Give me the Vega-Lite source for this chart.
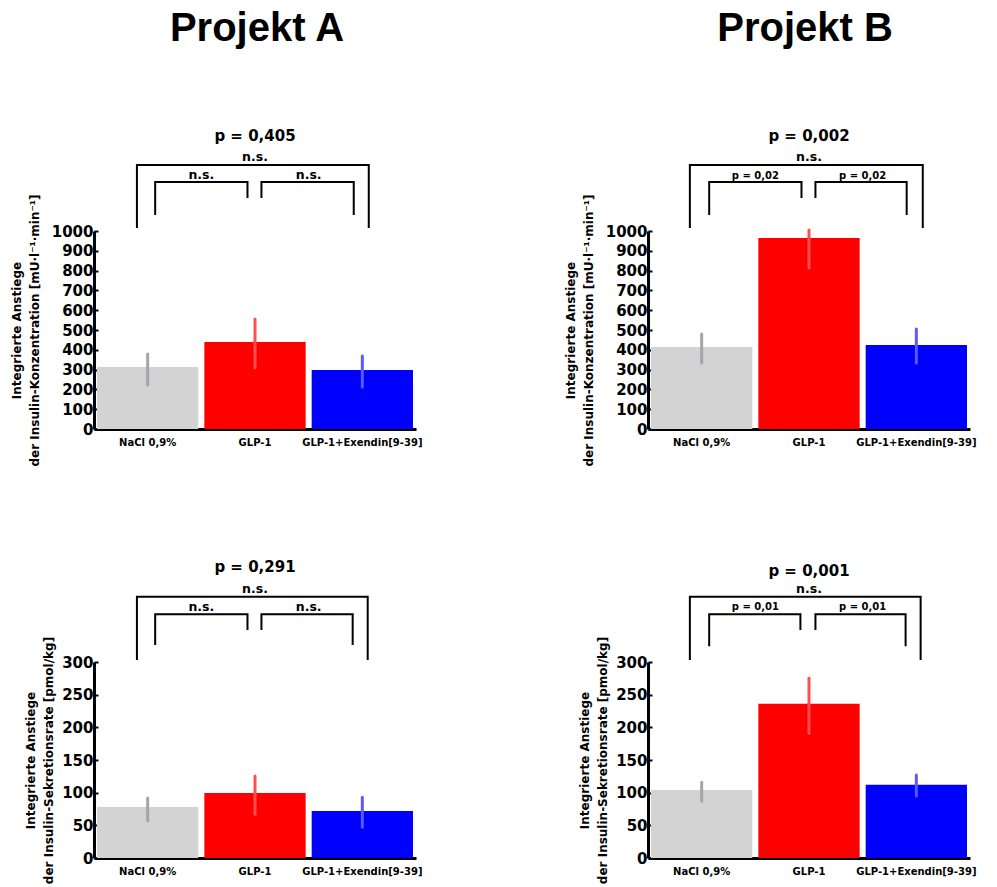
{
  "$schema": "https://vega.github.io/schema/vega-lite/v6.json",
  "background": "white",
  "padding": {"left": 10, "top": 8, "right": 5, "bottom": 5},
  "config": {
    "view": {"stroke": null},
    "font": "DejaVu Sans",
    "axis": {"domainColor": "black", "domainWidth": 3, "tickColor": "black", "tickWidth": 2, "grid": false, "labelColor": "black", "titleColor": "black", "labelFont": "DejaVu Sans", "labelFontWeight": "bold", "titleFont": "DejaVu Sans", "titleFontWeight": "bold", "labelOverlap": false, "zindex": 1}
  },
  "bounds": "flush",
  "columns": 2,
  "spacing": {"row": 233, "column": 232},
  "concat": [
    {
      "width": 322, "height": 198,
      "title": {"text": "Projekt A", "font": "Liberation Sans", "fontSize": 40, "fontWeight": "bold", "color": "black", "anchor": "middle", "frame": "group", "offset": 80, "dx": 2},
      "resolve": {"scale": {"x": "independent"}},
      "layer": [
        {
          "data": {"values": [
            {"Gruppe": "NaCl 0,9%", "Mittelwert": 313, "Unten": 222, "Oben": 379},
            {"Gruppe": "GLP-1", "Mittelwert": 439, "Unten": 308, "Oben": 556},
            {"Gruppe": "GLP-1+Exendin[9-39]", "Mittelwert": 298, "Unten": 212, "Oben": 369}
          ]},
          "mark": {"type": "bar"},
          "encoding": {
            "x": {"field": "Gruppe", "type": "nominal", "sort": null, "scale": {"paddingInner": 0.056, "paddingOuter": 0.028}, "axis": {"title": null, "labelAngle": 0, "labelFontSize": 10, "tickSize": -4, "labelPadding": 12, "labelOverlap": false}},
            "y": {"field": "Mittelwert", "type": "quantitative", "scale": {"domain": [0, 1000]}, "axis": {"values": [0, 100, 200, 300, 400, 500, 600, 700, 800, 900, 1000], "format": "d", "labelOverlap": false, "title": ["Integrierte Anstiege", "der Insulin-Konzentration [mU·l⁻¹·min⁻¹]"], "titleFontSize": 12, "titleLineHeight": 18, "titlePadding": 10, "labelFontSize": 15, "tickSize": -4, "labelPadding": 5}},
            "fill": {"field": "Gruppe", "type": "nominal", "scale": {"domain": ["NaCl 0,9%", "GLP-1", "GLP-1+Exendin[9-39]"], "range": ["#d3d3d3", "#ff0000", "#0000ff"]}, "legend": null}
          }
        },
        {
          "data": {"values": [
            {"Gruppe": "NaCl 0,9%", "Mittelwert": 313, "Unten": 222, "Oben": 379},
            {"Gruppe": "GLP-1", "Mittelwert": 439, "Unten": 308, "Oben": 556},
            {"Gruppe": "GLP-1+Exendin[9-39]", "Mittelwert": 298, "Unten": 212, "Oben": 369}
          ]},
          "mark": {"type": "rule", "strokeWidth": 3, "strokeCap": "round"},
          "encoding": {
            "x": {"field": "Gruppe", "type": "nominal", "sort": null, "scale": {"paddingInner": 0.056, "paddingOuter": 0.028}, "axis": null},
            "y": {"field": "Unten", "type": "quantitative", "scale": {"domain": [0, 1000]}, "axis": {"values": [0, 100, 200, 300, 400, 500, 600, 700, 800, 900, 1000], "format": "d", "labelOverlap": false, "title": ["Integrierte Anstiege", "der Insulin-Konzentration [mU·l⁻¹·min⁻¹]"], "titleFontSize": 12, "titleLineHeight": 18, "titlePadding": 10, "labelFontSize": 15, "tickSize": -4, "labelPadding": 5}},
            "y2": {"field": "Oben"},
            "stroke": {"field": "Gruppe", "type": "nominal", "scale": {"domain": ["NaCl 0,9%", "GLP-1", "GLP-1+Exendin[9-39]"], "range": ["#a4a4ac", "#ff5050", "#5a5aff"]}, "legend": null}
          }
        },
        {
          "data": {"values": [
            {"Klammer": "gesamt", "Punkt": 1, "x": 0.40, "y": 1015}, {"Klammer": "gesamt", "Punkt": 2, "x": 0.40, "y": 1333}, {"Klammer": "gesamt", "Punkt": 3, "x": 2.56, "y": 1333}, {"Klammer": "gesamt", "Punkt": 4, "x": 2.56, "y": 1015},
            {"Klammer": "links", "Punkt": 1, "x": 0.57, "y": 1081}, {"Klammer": "links", "Punkt": 2, "x": 0.57, "y": 1247}, {"Klammer": "links", "Punkt": 3, "x": 1.43, "y": 1247}, {"Klammer": "links", "Punkt": 4, "x": 1.43, "y": 1167},
            {"Klammer": "rechts", "Punkt": 1, "x": 1.56, "y": 1167}, {"Klammer": "rechts", "Punkt": 2, "x": 1.56, "y": 1247}, {"Klammer": "rechts", "Punkt": 3, "x": 2.42, "y": 1247}, {"Klammer": "rechts", "Punkt": 4, "x": 2.42, "y": 1081}
          ]},
          "mark": {"type": "line", "color": "black", "strokeWidth": 2, "strokeJoin": "miter"},
          "encoding": {
            "x": {"field": "x", "type": "quantitative", "scale": {"domain": [0, 3]}, "axis": null},
            "y": {"field": "y", "type": "quantitative", "scale": {"domain": [0, 1000]}, "axis": {"values": [0, 100, 200, 300, 400, 500, 600, 700, 800, 900, 1000], "format": "d", "labelOverlap": false, "title": ["Integrierte Anstiege", "der Insulin-Konzentration [mU·l⁻¹·min⁻¹]"], "titleFontSize": 12, "titleLineHeight": 18, "titlePadding": 10, "labelFontSize": 15, "tickSize": -4, "labelPadding": 5}},
            "detail": {"field": "Klammer"},
            "order": {"field": "Punkt"}
          }
        },
        {
          "data": {"values": [
            {"Typ": "Titel", "x": 1.5, "y": 1455, "Text": "p = 0,405"},
            {"Typ": "n.s.", "x": 1.5, "y": 1354, "Text": "n.s."},
            {"Typ": "n.s.", "x": 1.0, "y": 1262, "Text": "n.s."},
            {"Typ": "n.s.", "x": 2.0, "y": 1262, "Text": "n.s."}
          ]},
          "mark": {"type": "text", "fontWeight": "bold", "font": "DejaVu Sans", "color": "black", "baseline": "alphabetic", "align": "center"},
          "encoding": {
            "x": {"field": "x", "type": "quantitative", "scale": {"domain": [0, 3]}, "axis": null},
            "y": {"field": "y", "type": "quantitative", "scale": {"domain": [0, 1000]}, "axis": {"values": [0, 100, 200, 300, 400, 500, 600, 700, 800, 900, 1000], "format": "d", "labelOverlap": false, "title": ["Integrierte Anstiege", "der Insulin-Konzentration [mU·l⁻¹·min⁻¹]"], "titleFontSize": 12, "titleLineHeight": 18, "titlePadding": 10, "labelFontSize": 15, "tickSize": -4, "labelPadding": 5}},
            "text": {"field": "Text"},
            "size": {"field": "Typ", "type": "ordinal", "scale": {"domain": ["Titel", "n.s.", "p"], "range": [15, 10, 12]}, "legend": null}
          }
        }
      ]
    },
    {
      "width": 322, "height": 198,
      "title": {"text": "Projekt B", "font": "Liberation Sans", "fontSize": 40, "fontWeight": "bold", "color": "black", "anchor": "middle", "frame": "group", "offset": 80, "dx": -4},
      "resolve": {"scale": {"x": "independent"}},
      "layer": [
        {
          "data": {"values": [
            {"Gruppe": "NaCl 0,9%", "Mittelwert": 414, "Unten": 333, "Oben": 480},
            {"Gruppe": "GLP-1", "Mittelwert": 965, "Unten": 813, "Oben": 1005},
            {"Gruppe": "GLP-1+Exendin[9-39]", "Mittelwert": 424, "Unten": 333, "Oben": 505}
          ]},
          "mark": {"type": "bar"},
          "encoding": {
            "x": {"field": "Gruppe", "type": "nominal", "sort": null, "scale": {"paddingInner": 0.056, "paddingOuter": 0.028}, "axis": {"title": null, "labelAngle": 0, "labelFontSize": 10, "tickSize": -4, "labelPadding": 12, "labelOverlap": false}},
            "y": {"field": "Mittelwert", "type": "quantitative", "scale": {"domain": [0, 1000]}, "axis": {"values": [0, 100, 200, 300, 400, 500, 600, 700, 800, 900, 1000], "format": "d", "labelOverlap": false, "title": ["Integrierte Anstiege", "der Insulin-Konzentration [mU·l⁻¹·min⁻¹]"], "titleFontSize": 12, "titleLineHeight": 18, "titlePadding": 10, "labelFontSize": 15, "tickSize": -4, "labelPadding": 5}},
            "fill": {"field": "Gruppe", "type": "nominal", "scale": {"domain": ["NaCl 0,9%", "GLP-1", "GLP-1+Exendin[9-39]"], "range": ["#d3d3d3", "#ff0000", "#0000ff"]}, "legend": null}
          }
        },
        {
          "data": {"values": [
            {"Gruppe": "NaCl 0,9%", "Mittelwert": 414, "Unten": 333, "Oben": 480},
            {"Gruppe": "GLP-1", "Mittelwert": 965, "Unten": 813, "Oben": 1005},
            {"Gruppe": "GLP-1+Exendin[9-39]", "Mittelwert": 424, "Unten": 333, "Oben": 505}
          ]},
          "mark": {"type": "rule", "strokeWidth": 3, "strokeCap": "round"},
          "encoding": {
            "x": {"field": "Gruppe", "type": "nominal", "sort": null, "scale": {"paddingInner": 0.056, "paddingOuter": 0.028}, "axis": null},
            "y": {"field": "Unten", "type": "quantitative", "scale": {"domain": [0, 1000]}, "axis": {"values": [0, 100, 200, 300, 400, 500, 600, 700, 800, 900, 1000], "format": "d", "labelOverlap": false, "title": ["Integrierte Anstiege", "der Insulin-Konzentration [mU·l⁻¹·min⁻¹]"], "titleFontSize": 12, "titleLineHeight": 18, "titlePadding": 10, "labelFontSize": 15, "tickSize": -4, "labelPadding": 5}},
            "y2": {"field": "Oben"},
            "stroke": {"field": "Gruppe", "type": "nominal", "scale": {"domain": ["NaCl 0,9%", "GLP-1", "GLP-1+Exendin[9-39]"], "range": ["#a4a4ac", "#ff5050", "#5a5aff"]}, "legend": null}
          }
        },
        {
          "data": {"values": [
            {"Klammer": "gesamt", "Punkt": 1, "x": 0.39, "y": 1015}, {"Klammer": "gesamt", "Punkt": 2, "x": 0.39, "y": 1333}, {"Klammer": "gesamt", "Punkt": 3, "x": 2.56, "y": 1333}, {"Klammer": "gesamt", "Punkt": 4, "x": 2.56, "y": 1015},
            {"Klammer": "links", "Punkt": 1, "x": 0.57, "y": 1081}, {"Klammer": "links", "Punkt": 2, "x": 0.57, "y": 1247}, {"Klammer": "links", "Punkt": 3, "x": 1.43, "y": 1247}, {"Klammer": "links", "Punkt": 4, "x": 1.43, "y": 1167},
            {"Klammer": "rechts", "Punkt": 1, "x": 1.56, "y": 1167}, {"Klammer": "rechts", "Punkt": 2, "x": 1.56, "y": 1247}, {"Klammer": "rechts", "Punkt": 3, "x": 2.41, "y": 1247}, {"Klammer": "rechts", "Punkt": 4, "x": 2.41, "y": 1081}
          ]},
          "mark": {"type": "line", "color": "black", "strokeWidth": 2, "strokeJoin": "miter"},
          "encoding": {
            "x": {"field": "x", "type": "quantitative", "scale": {"domain": [0, 3]}, "axis": null},
            "y": {"field": "y", "type": "quantitative", "scale": {"domain": [0, 1000]}, "axis": {"values": [0, 100, 200, 300, 400, 500, 600, 700, 800, 900, 1000], "format": "d", "labelOverlap": false, "title": ["Integrierte Anstiege", "der Insulin-Konzentration [mU·l⁻¹·min⁻¹]"], "titleFontSize": 12, "titleLineHeight": 18, "titlePadding": 10, "labelFontSize": 15, "tickSize": -4, "labelPadding": 5}},
            "detail": {"field": "Klammer"},
            "order": {"field": "Punkt"}
          }
        },
        {
          "data": {"values": [
            {"Typ": "Titel", "x": 1.5, "y": 1455, "Text": "p = 0,002"},
            {"Typ": "n.s.", "x": 1.5, "y": 1354, "Text": "n.s."},
            {"Typ": "p", "x": 1.0, "y": 1265, "Text": "p = 0,02"},
            {"Typ": "p", "x": 2.0, "y": 1265, "Text": "p = 0,02"}
          ]},
          "mark": {"type": "text", "fontWeight": "bold", "font": "DejaVu Sans", "color": "black", "baseline": "alphabetic", "align": "center"},
          "encoding": {
            "x": {"field": "x", "type": "quantitative", "scale": {"domain": [0, 3]}, "axis": null},
            "y": {"field": "y", "type": "quantitative", "scale": {"domain": [0, 1000]}, "axis": {"values": [0, 100, 200, 300, 400, 500, 600, 700, 800, 900, 1000], "format": "d", "labelOverlap": false, "title": ["Integrierte Anstiege", "der Insulin-Konzentration [mU·l⁻¹·min⁻¹]"], "titleFontSize": 12, "titleLineHeight": 18, "titlePadding": 10, "labelFontSize": 15, "tickSize": -4, "labelPadding": 5}},
            "text": {"field": "Text"},
            "size": {"field": "Typ", "type": "ordinal", "scale": {"domain": ["Titel", "n.s.", "p"], "range": [15, 10, 12]}, "legend": null}
          }
        }
      ]
    },
    {
      "width": 322, "height": 196,
      "resolve": {"scale": {"x": "independent"}},
      "layer": [
        {
          "data": {"values": [
            {"Gruppe": "NaCl 0,9%", "Mittelwert": 78, "Unten": 57, "Oben": 92},
            {"Gruppe": "GLP-1", "Mittelwert": 99.5, "Unten": 67, "Oben": 125.5},
            {"Gruppe": "GLP-1+Exendin[9-39]", "Mittelwert": 72, "Unten": 47, "Oben": 93}
          ]},
          "mark": {"type": "bar"},
          "encoding": {
            "x": {"field": "Gruppe", "type": "nominal", "sort": null, "scale": {"paddingInner": 0.056, "paddingOuter": 0.028}, "axis": {"title": null, "labelAngle": 0, "labelFontSize": 10, "tickSize": -4, "labelPadding": 12, "labelOverlap": false}},
            "y": {"field": "Mittelwert", "type": "quantitative", "scale": {"domain": [0, 300]}, "axis": {"values": [0, 50, 100, 150, 200, 250, 300], "format": "d", "labelOverlap": false, "title": ["Integrierte Anstiege", "der Insulin-Sekretionsrate [pmol/kg]"], "titleFontSize": 12, "titleLineHeight": 18, "titlePadding": 6, "labelFontSize": 15, "tickSize": -4, "labelPadding": 5}},
            "fill": {"field": "Gruppe", "type": "nominal", "scale": {"domain": ["NaCl 0,9%", "GLP-1", "GLP-1+Exendin[9-39]"], "range": ["#d3d3d3", "#ff0000", "#0000ff"]}, "legend": null}
          }
        },
        {
          "data": {"values": [
            {"Gruppe": "NaCl 0,9%", "Mittelwert": 78, "Unten": 57, "Oben": 92},
            {"Gruppe": "GLP-1", "Mittelwert": 99.5, "Unten": 67, "Oben": 125.5},
            {"Gruppe": "GLP-1+Exendin[9-39]", "Mittelwert": 72, "Unten": 47, "Oben": 93}
          ]},
          "mark": {"type": "rule", "strokeWidth": 3, "strokeCap": "round"},
          "encoding": {
            "x": {"field": "Gruppe", "type": "nominal", "sort": null, "scale": {"paddingInner": 0.056, "paddingOuter": 0.028}, "axis": null},
            "y": {"field": "Unten", "type": "quantitative", "scale": {"domain": [0, 300]}, "axis": {"values": [0, 50, 100, 150, 200, 250, 300], "format": "d", "labelOverlap": false, "title": ["Integrierte Anstiege", "der Insulin-Sekretionsrate [pmol/kg]"], "titleFontSize": 12, "titleLineHeight": 18, "titlePadding": 6, "labelFontSize": 15, "tickSize": -4, "labelPadding": 5}},
            "y2": {"field": "Oben"},
            "stroke": {"field": "Gruppe", "type": "nominal", "scale": {"domain": ["NaCl 0,9%", "GLP-1", "GLP-1+Exendin[9-39]"], "range": ["#a4a4ac", "#ff5050", "#5a5aff"]}, "legend": null}
          }
        },
        {
          "data": {"values": [
            {"Klammer": "gesamt", "Punkt": 1, "x": 0.40, "y": 303}, {"Klammer": "gesamt", "Punkt": 2, "x": 0.40, "y": 400}, {"Klammer": "gesamt", "Punkt": 3, "x": 2.55, "y": 400}, {"Klammer": "gesamt", "Punkt": 4, "x": 2.55, "y": 303},
            {"Klammer": "links", "Punkt": 1, "x": 0.57, "y": 326}, {"Klammer": "links", "Punkt": 2, "x": 0.57, "y": 373}, {"Klammer": "links", "Punkt": 3, "x": 1.43, "y": 373}, {"Klammer": "links", "Punkt": 4, "x": 1.43, "y": 349},
            {"Klammer": "rechts", "Punkt": 1, "x": 1.56, "y": 349}, {"Klammer": "rechts", "Punkt": 2, "x": 1.56, "y": 373}, {"Klammer": "rechts", "Punkt": 3, "x": 2.41, "y": 373}, {"Klammer": "rechts", "Punkt": 4, "x": 2.41, "y": 326}
          ]},
          "mark": {"type": "line", "color": "black", "strokeWidth": 2, "strokeJoin": "miter"},
          "encoding": {
            "x": {"field": "x", "type": "quantitative", "scale": {"domain": [0, 3]}, "axis": null},
            "y": {"field": "y", "type": "quantitative", "scale": {"domain": [0, 300]}, "axis": {"values": [0, 50, 100, 150, 200, 250, 300], "format": "d", "labelOverlap": false, "title": ["Integrierte Anstiege", "der Insulin-Sekretionsrate [pmol/kg]"], "titleFontSize": 12, "titleLineHeight": 18, "titlePadding": 6, "labelFontSize": 15, "tickSize": -4, "labelPadding": 5}},
            "detail": {"field": "Klammer"},
            "order": {"field": "Punkt"}
          }
        },
        {
          "data": {"values": [
            {"Typ": "Titel", "x": 1.5, "y": 437, "Text": "p = 0,291"},
            {"Typ": "n.s.", "x": 1.5, "y": 405, "Text": "n.s."},
            {"Typ": "n.s.", "x": 1.0, "y": 378, "Text": "n.s."},
            {"Typ": "n.s.", "x": 2.0, "y": 378, "Text": "n.s."}
          ]},
          "mark": {"type": "text", "fontWeight": "bold", "font": "DejaVu Sans", "color": "black", "baseline": "alphabetic", "align": "center"},
          "encoding": {
            "x": {"field": "x", "type": "quantitative", "scale": {"domain": [0, 3]}, "axis": null},
            "y": {"field": "y", "type": "quantitative", "scale": {"domain": [0, 300]}, "axis": {"values": [0, 50, 100, 150, 200, 250, 300], "format": "d", "labelOverlap": false, "title": ["Integrierte Anstiege", "der Insulin-Sekretionsrate [pmol/kg]"], "titleFontSize": 12, "titleLineHeight": 18, "titlePadding": 6, "labelFontSize": 15, "tickSize": -4, "labelPadding": 5}},
            "text": {"field": "Text"},
            "size": {"field": "Typ", "type": "ordinal", "scale": {"domain": ["Titel", "n.s.", "p"], "range": [15, 10, 12]}, "legend": null}
          }
        }
      ]
    },
    {
      "width": 322, "height": 196,
      "resolve": {"scale": {"x": "independent"}},
      "layer": [
        {
          "data": {"values": [
            {"Gruppe": "NaCl 0,9%", "Mittelwert": 104, "Unten": 87, "Oben": 116},
            {"Gruppe": "GLP-1", "Mittelwert": 236, "Unten": 191, "Oben": 275},
            {"Gruppe": "GLP-1+Exendin[9-39]", "Mittelwert": 112, "Unten": 95, "Oben": 127}
          ]},
          "mark": {"type": "bar"},
          "encoding": {
            "x": {"field": "Gruppe", "type": "nominal", "sort": null, "scale": {"paddingInner": 0.056, "paddingOuter": 0.028}, "axis": {"title": null, "labelAngle": 0, "labelFontSize": 10, "tickSize": -4, "labelPadding": 12, "labelOverlap": false}},
            "y": {"field": "Mittelwert", "type": "quantitative", "scale": {"domain": [0, 300]}, "axis": {"values": [0, 50, 100, 150, 200, 250, 300], "format": "d", "labelOverlap": false, "title": ["Integrierte Anstiege", "der Insulin-Sekretionsrate [pmol/kg]"], "titleFontSize": 12, "titleLineHeight": 18, "titlePadding": 6, "labelFontSize": 15, "tickSize": -4, "labelPadding": 5}},
            "fill": {"field": "Gruppe", "type": "nominal", "scale": {"domain": ["NaCl 0,9%", "GLP-1", "GLP-1+Exendin[9-39]"], "range": ["#d3d3d3", "#ff0000", "#0000ff"]}, "legend": null}
          }
        },
        {
          "data": {"values": [
            {"Gruppe": "NaCl 0,9%", "Mittelwert": 104, "Unten": 87, "Oben": 116},
            {"Gruppe": "GLP-1", "Mittelwert": 236, "Unten": 191, "Oben": 275},
            {"Gruppe": "GLP-1+Exendin[9-39]", "Mittelwert": 112, "Unten": 95, "Oben": 127}
          ]},
          "mark": {"type": "rule", "strokeWidth": 3, "strokeCap": "round"},
          "encoding": {
            "x": {"field": "Gruppe", "type": "nominal", "sort": null, "scale": {"paddingInner": 0.056, "paddingOuter": 0.028}, "axis": null},
            "y": {"field": "Unten", "type": "quantitative", "scale": {"domain": [0, 300]}, "axis": {"values": [0, 50, 100, 150, 200, 250, 300], "format": "d", "labelOverlap": false, "title": ["Integrierte Anstiege", "der Insulin-Sekretionsrate [pmol/kg]"], "titleFontSize": 12, "titleLineHeight": 18, "titlePadding": 6, "labelFontSize": 15, "tickSize": -4, "labelPadding": 5}},
            "y2": {"field": "Oben"},
            "stroke": {"field": "Gruppe", "type": "nominal", "scale": {"domain": ["NaCl 0,9%", "GLP-1", "GLP-1+Exendin[9-39]"], "range": ["#a4a4ac", "#ff5050", "#5a5aff"]}, "legend": null}
          }
        },
        {
          "data": {"values": [
            {"Klammer": "gesamt", "Punkt": 1, "x": 0.39, "y": 303}, {"Klammer": "gesamt", "Punkt": 2, "x": 0.39, "y": 400}, {"Klammer": "gesamt", "Punkt": 3, "x": 2.54, "y": 400}, {"Klammer": "gesamt", "Punkt": 4, "x": 2.54, "y": 303},
            {"Klammer": "links", "Punkt": 1, "x": 0.57, "y": 324}, {"Klammer": "links", "Punkt": 2, "x": 0.57, "y": 373}, {"Klammer": "links", "Punkt": 3, "x": 1.42, "y": 373}, {"Klammer": "links", "Punkt": 4, "x": 1.42, "y": 349},
            {"Klammer": "rechts", "Punkt": 1, "x": 1.56, "y": 349}, {"Klammer": "rechts", "Punkt": 2, "x": 1.56, "y": 373}, {"Klammer": "rechts", "Punkt": 3, "x": 2.40, "y": 373}, {"Klammer": "rechts", "Punkt": 4, "x": 2.40, "y": 324}
          ]},
          "mark": {"type": "line", "color": "black", "strokeWidth": 2, "strokeJoin": "miter"},
          "encoding": {
            "x": {"field": "x", "type": "quantitative", "scale": {"domain": [0, 3]}, "axis": null},
            "y": {"field": "y", "type": "quantitative", "scale": {"domain": [0, 300]}, "axis": {"values": [0, 50, 100, 150, 200, 250, 300], "format": "d", "labelOverlap": false, "title": ["Integrierte Anstiege", "der Insulin-Sekretionsrate [pmol/kg]"], "titleFontSize": 12, "titleLineHeight": 18, "titlePadding": 6, "labelFontSize": 15, "tickSize": -4, "labelPadding": 5}},
            "detail": {"field": "Klammer"},
            "order": {"field": "Punkt"}
          }
        },
        {
          "data": {"values": [
            {"Typ": "Titel", "x": 1.5, "y": 432, "Text": "p = 0,001"},
            {"Typ": "n.s.", "x": 1.5, "y": 405, "Text": "n.s."},
            {"Typ": "p", "x": 1.0, "y": 380, "Text": "p = 0,01"},
            {"Typ": "p", "x": 2.0, "y": 380, "Text": "p = 0,01"}
          ]},
          "mark": {"type": "text", "fontWeight": "bold", "font": "DejaVu Sans", "color": "black", "baseline": "alphabetic", "align": "center"},
          "encoding": {
            "x": {"field": "x", "type": "quantitative", "scale": {"domain": [0, 3]}, "axis": null},
            "y": {"field": "y", "type": "quantitative", "scale": {"domain": [0, 300]}, "axis": {"values": [0, 50, 100, 150, 200, 250, 300], "format": "d", "labelOverlap": false, "title": ["Integrierte Anstiege", "der Insulin-Sekretionsrate [pmol/kg]"], "titleFontSize": 12, "titleLineHeight": 18, "titlePadding": 6, "labelFontSize": 15, "tickSize": -4, "labelPadding": 5}},
            "text": {"field": "Text"},
            "size": {"field": "Typ", "type": "ordinal", "scale": {"domain": ["Titel", "n.s.", "p"], "range": [15, 10, 12]}, "legend": null}
          }
        }
      ]
    }
  ]
}
